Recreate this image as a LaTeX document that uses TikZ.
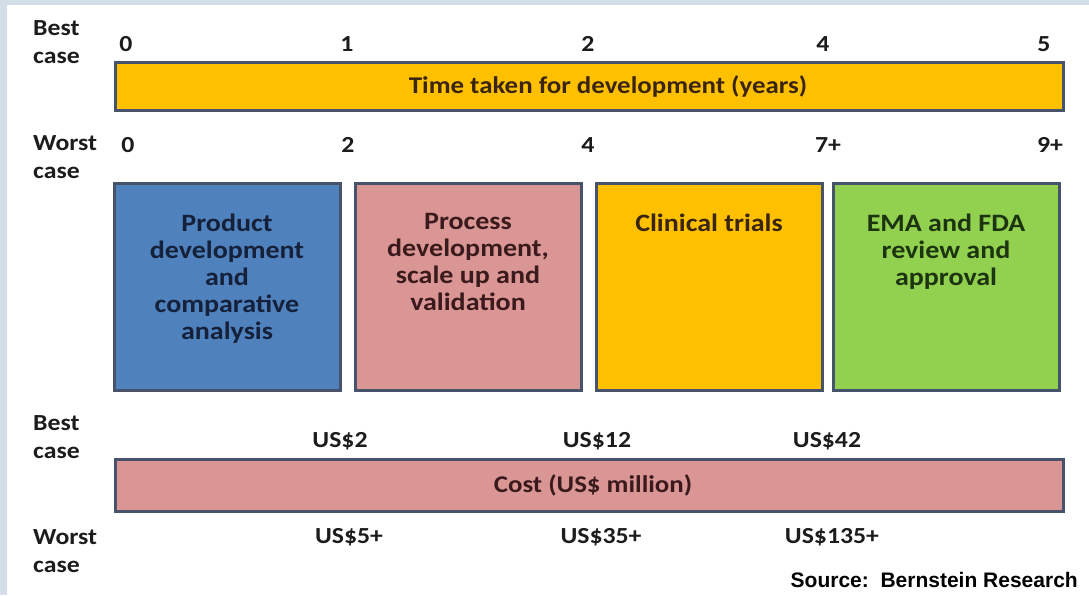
\documentclass[tikz,border=0pt]{standalone}
\usepackage{fontspec}
\setmainfont[FakeStretch=1.12]{Carlito}
\newfontfamily\srcfont{Liberation Sans}
\definecolor{framebg}{HTML}{D4DEE9}
\definecolor{goldF}{HTML}{FFC000}
\definecolor{blueF}{HTML}{4F81BD}
\definecolor{pinkF}{HTML}{D99694}
\definecolor{greenF}{HTML}{92D050}
\definecolor{edgeC}{HTML}{46536A}
\definecolor{inkC}{HTML}{1C1C1C}
\definecolor{inkBlue}{HTML}{15213A}
\definecolor{inkRed}{HTML}{3A1A1C}
\definecolor{inkGold}{HTML}{3A2412}
\definecolor{inkGreen}{HTML}{1D3410}
\tikzset{
  lbl/.style={inner sep=0pt, text=inkC, font=\bfseries\fontsize{23}{28}\selectfont},
  barlbl/.style={lbl, font=\bfseries\fontsize{24}{28}\selectfont},
  sidelbl/.style={lbl, align=left, anchor=west},
  barbox/.style={draw=edgeC, line width=3pt, inner sep=0pt, minimum width=948pt, minimum height=48pt},
  phasebox/.style={draw=edgeC, line width=3pt, inner sep=0pt, minimum width=226pt, minimum height=207pt},
  phasetext/.style={inner sep=0pt, anchor=north, align=center, font=\bfseries\fontsize{25}{27}\selectfont}
}
\begin{document}
\begin{tikzpicture}[x=1pt,y=-1pt]
\useasboundingbox (0,0) rectangle (1089,595);
% page background with its thin tinted frame
\fill[white] (0,0) rectangle (1089,595);
\fill[framebg] (0,0) rectangle (1089,5);
\fill[framebg] (0,0) rectangle (7,595);

% time axis
\node[sidelbl] (bestT) at (33,42) {Best\\case};
\node[sidelbl] (worstT) at (33,157) {Worst\\case};
\node[lbl, anchor=base] (tb0) at (126,51) {0};
\node[lbl, anchor=base] (tb1) at (347,51) {1};
\node[lbl, anchor=base] (tb2) at (588,51) {2};
\node[lbl, anchor=base] (tb4) at (823,51) {4};
\node[lbl, anchor=base] (tb5) at (1044,51) {5};
\node[barbox, fill=goldF] (timebar) at (589,86) {};
\node[barlbl, text=inkGold] (timetxt) at (608,86) {Time taken for development (years)};
\node[lbl, anchor=base] (tw0) at (128,152) {0};
\node[lbl, anchor=base] (tw2) at (348,152) {2};
\node[lbl, anchor=base] (tw4) at (588,152) {4};
\node[lbl, anchor=base] (tw7) at (828,152) {7+};
\node[lbl, anchor=base] (tw9) at (1050,152) {9+};

% development phases
\node[phasebox, fill=blueF] (p1) at (227,286.5) {};
\node[phasebox, fill=pinkF] (p2) at (468,286.5) {};
\node[phasebox, fill=goldF] (p3) at (709,286.5) {};
\node[phasebox, fill=greenF] (p4) at (946,286.5) {};
\node[phasetext, text=inkBlue] (p1t) at ([yshift=-32pt]p1.north) {Product\\development\\and\\comparative\\analysis};
\node[phasetext, text=inkRed] (p2t) at ([yshift=-32pt]p2.north) {Process\\development,\\scale up and\\validation};
\node[phasetext, text=inkGold] (p3t) at ([yshift=-32pt]p3.north) {Clinical trials};
\node[phasetext, text=inkGreen] (p4t) at ([yshift=-32pt]p4.north) {EMA and FDA\\review and\\approval};

% cost axis
\node[sidelbl] (bestC) at (33,437) {Best\\case};
\node[sidelbl] (worstC) at (33,551) {Worst\\case};
\node[lbl] (cb1) at (340,441) {US\$2};
\node[lbl] (cb2) at (597,441) {US\$12};
\node[lbl] (cb3) at (827,441) {US\$42};
\node[barbox, fill=pinkF, minimum height=52pt] (costbar) at (589,485) {};
\node[barlbl, text=inkRed] (costtxt) at (593,485) {Cost (US\$ million)};
\node[lbl] (cw1) at (349,537) {US\$5+};
\node[lbl] (cw2) at (601,537) {US\$35+};
\node[lbl] (cw3) at (832,537) {US\$135+};

\node[inner sep=0pt, anchor=east, text=black, font=\srcfont\bfseries\fontsize{21}{24}\selectfont] (src) at (1078,580) {Source:\ \ Bernstein Research};
\end{tikzpicture}
\end{document}
